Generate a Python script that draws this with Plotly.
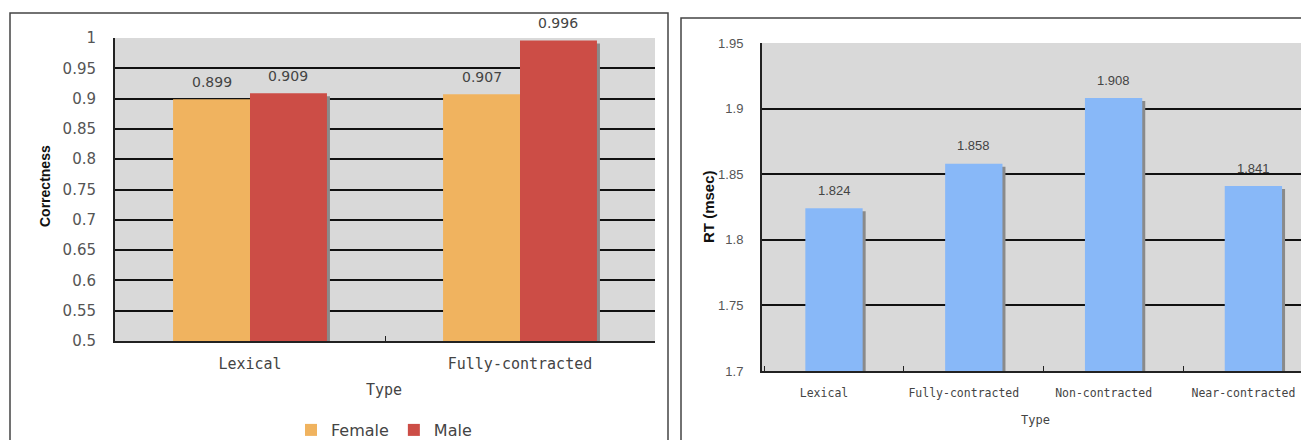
import plotly.graph_objects as go

# ---------------- data ----------------
left_categories = ["Lexical", "Fully-contracted"]
female_values = [0.899, 0.907]
male_values = [0.909, 0.996]
left_series_names = ["Female", "Male"]
left_y_ticks = [0.5, 0.55, 0.6, 0.65, 0.7, 0.75, 0.8, 0.85, 0.9, 0.95, 1]
left_y_ticklabels = ["0.5", "0.55", "0.6", "0.65", "0.7", "0.75", "0.8", "0.85", "0.9", "0.95", "1"]

right_categories = ["Lexical", "Fully-contracted", "Non-contracted", "Near-contracted"]
rt_values = [1.824, 1.858, 1.908, 1.841]
right_y_ticks = [1.7, 1.75, 1.8, 1.85, 1.9, 1.95]
right_y_ticklabels = ["1.7", "1.75", "1.8", "1.85", "1.9", "1.95"]

# ---------------- style ----------------
PAGE_W, PAGE_H = 1309, 440
OFF = 8                      # page body margin
W, H = PAGE_W - OFF, PAGE_H - OFF
FEMALE = "#f0b35f"
MALE = "#cc4d46"
BLUE = "#88b8f8"
SHADOW = "#8a8a8a"
BG = "#d9d9d9"
TXT = "#555555"


def px_x(p):
    return (p - OFF) / W


def px_y(p):
    return 1 - (p - OFF) / H


# left plot geometry (page px)
L_X0, L_X1, L_Y0, L_Y1 = 115, 655, 38, 341
# right plot geometry (page px)
R_X0, R_Y0, R_Y1 = 762, 43, 371
R_CAT_W = 139.8
R_FIRST_CENTER = 834
R_X1 = PAGE_W

l_xrange = [-0.5, 1.5]
l_pxu = (L_X1 - L_X0) / (l_xrange[1] - l_xrange[0])
l_yrange = [0.5, 1.0]
l_ypx = (l_yrange[1] - l_yrange[0]) / (L_Y1 - L_Y0)

r_xrange = [(R_X0 - R_FIRST_CENTER) / R_CAT_W, (R_X1 - R_FIRST_CENTER) / R_CAT_W]
r_yrange = [1.7, 1.95]
r_ypx = (r_yrange[1] - r_yrange[0]) / (R_Y1 - R_Y0)

SH = 3  # shadow offset px

fig = go.Figure()

# ---- left shadows (x3/y3) ----
for vals in (female_values, male_values):
    fig.add_trace(go.Bar(x=left_categories, y=vals, marker=dict(color=SHADOW, line=dict(width=0)),
                         xaxis="x3", yaxis="y3", showlegend=False, hoverinfo="skip"))
# ---- left main bars (x5/y5) ----
for name, vals, col in ((left_series_names[0], female_values, FEMALE),
                        (left_series_names[1], male_values, MALE)):
    fig.add_trace(go.Bar(x=left_categories, y=vals, name=name, marker=dict(color=col, line=dict(width=0)),
                         xaxis="x5", yaxis="y5"))
# ---- right shadows / main ----
fig.add_trace(go.Bar(x=right_categories, y=rt_values, marker=dict(color=SHADOW, line=dict(width=0)),
                     xaxis="x4", yaxis="y4", showlegend=False, hoverinfo="skip", width=0.41))
fig.add_trace(go.Bar(x=right_categories, y=rt_values, marker=dict(color=BLUE, line=dict(width=0)),
                     xaxis="x6", yaxis="y6", showlegend=False, width=0.41))
# invisible traces to activate base axes
fig.add_trace(go.Bar(x=left_categories, y=[None, None], xaxis="x", yaxis="y", showlegend=False, hoverinfo="skip"))
fig.add_trace(go.Bar(x=right_categories, y=[None] * 4, xaxis="x2", yaxis="y2", showlegend=False, hoverinfo="skip"))

l_dom_x = [px_x(L_X0), px_x(L_X1)]
l_dom_y = [px_y(L_Y1), px_y(L_Y0)]
r_dom_x = [px_x(R_X0), 1.0]
r_dom_y = [px_y(R_Y1), px_y(R_Y0)]

hidden = dict(showgrid=False, zeroline=False, showticklabels=False, showline=False, ticks="")

layout = dict(
    width=W, height=H,
    margin=dict(l=0, r=0, t=0, b=0, autoexpand=False),
    paper_bgcolor="white",
    plot_bgcolor=BG,
    barmode="group",
    bargap=0.43,
    bargroupgap=0,
    showlegend=True,
    legend=dict(orientation="h", x=px_x(384), xanchor="center", y=px_y(430), yanchor="middle",
                font=dict(family="DejaVu Sans", size=16, color="#444444"), bgcolor="rgba(0,0,0,0)",
                itemwidth=30, traceorder="normal"),
    # left base
    xaxis=dict(domain=l_dom_x, anchor="y", type="category", categoryarray=left_categories,
               range=l_xrange, showgrid=False, zeroline=False, showline=True, linecolor="#222", linewidth=2,
               mirror=False, ticks="inside", tickson="boundaries", ticklen=5, tickcolor="#222",
               tickfont=dict(family="DejaVu Sans Mono", size=15, color="#444"), ticklabelstandoff=8,
               automargin=False),
    yaxis=dict(domain=l_dom_y, anchor="x", range=l_yrange, tickvals=left_y_ticks, ticktext=left_y_ticklabels,
               showgrid=True, gridcolor="#111", gridwidth=1.5, zeroline=False, showline=True,
               linecolor="#222", linewidth=2, ticks="", ticklabelstandoff=14,
               tickfont=dict(family="DejaVu Sans", size=15, color=TXT), automargin=False),
    xaxis3=dict(domain=l_dom_x, anchor="y3", overlaying="x", type="category", categoryarray=left_categories,
                range=[l_xrange[0] - SH / l_pxu, l_xrange[1] - SH / l_pxu], **hidden),
    yaxis3=dict(domain=l_dom_y, anchor="x3", overlaying="y",
                range=[l_yrange[0] + SH * l_ypx, l_yrange[1] + SH * l_ypx], **hidden),
    xaxis5=dict(domain=l_dom_x, anchor="y5", overlaying="x", type="category", categoryarray=left_categories,
                range=l_xrange, **hidden),
    yaxis5=dict(domain=l_dom_y, anchor="x5", overlaying="y", range=l_yrange, **hidden),
    # right base
    xaxis2=dict(domain=r_dom_x, anchor="y2", type="category", categoryarray=right_categories,
                range=r_xrange, showgrid=False, zeroline=False, showline=True, linecolor="#222", linewidth=2,
                ticks="inside", tickson="boundaries", ticklen=5, tickcolor="#222",
                tickfont=dict(family="DejaVu Sans Mono", size=11.5, color="#444"), ticklabelstandoff=10,
                ticklabelshift=-10, automargin=False),
    yaxis2=dict(domain=r_dom_y, anchor="x2", range=r_yrange, tickvals=right_y_ticks, ticktext=right_y_ticklabels,
                showgrid=True, gridcolor="#111", gridwidth=1.5, zeroline=False, showline=True,
                linecolor="#222", linewidth=2, ticks="", ticklabelstandoff=14,
                tickfont=dict(family="Liberation Sans Narrow, Liberation Sans", size=13, color=TXT),
                automargin=False),
    xaxis4=dict(domain=r_dom_x, anchor="y4", overlaying="x2", type="category", categoryarray=right_categories,
                range=[r_xrange[0] - SH / R_CAT_W, r_xrange[1] - SH / R_CAT_W], **hidden),
    yaxis4=dict(domain=r_dom_y, anchor="x4", overlaying="y2",
                range=[r_yrange[0] + SH * r_ypx, r_yrange[1] + SH * r_ypx], **hidden),
    xaxis6=dict(domain=r_dom_x, anchor="y6", overlaying="x2", type="category", categoryarray=right_categories,
                range=r_xrange, **hidden),
    yaxis6=dict(domain=r_dom_y, anchor="x6", overlaying="y2", range=r_yrange, **hidden),
)
fig.update_layout(**layout)

annotations = []
# left value labels
bar_half = 0.57 * l_pxu / 4
for vals, sign in ((female_values, -1), (male_values, 1)):
    for cat, v in zip(left_categories, vals):
        annotations.append(dict(x=cat, y=v, xref="x", yref="y", text=f"{v:.3f}", showarrow=False,
                                xshift=sign * bar_half, yshift=17, xanchor="center", yanchor="middle",
                                font=dict(family="DejaVu Sans", size=14, color="#444")))
# right value labels
for cat, v in zip(right_categories, rt_values):
    annotations.append(dict(x=cat, y=v, xref="x2", yref="y2", text=f"{v:.3f}", showarrow=False,
                            yshift=18, xanchor="center", yanchor="middle",
                            font=dict(family="Liberation Sans Narrow, Liberation Sans", size=13, color="#444")))
# axis titles
annotations += [
    dict(x=px_x(45), y=px_y(186), xref="paper", yref="paper", text="<b>Correctness</b>", textangle=-90,
         showarrow=False, xanchor="center", yanchor="middle",
         font=dict(family="Liberation Sans Narrow, Liberation Sans", size=14, color="#111")),
    dict(x=px_x(384), y=px_y(390), xref="paper", yref="paper", text="Type", showarrow=False,
         xanchor="center", yanchor="middle",
         font=dict(family="DejaVu Sans Mono", size=15, color="#444")),
    dict(x=px_x(708), y=px_y(207), xref="paper", yref="paper", text="<b>RT (msec)</b>", textangle=-90,
         showarrow=False, xanchor="center", yanchor="middle",
         font=dict(family="Liberation Sans Narrow, Liberation Sans", size=15, color="#111")),
    dict(x=px_x(1035), y=px_y(420), xref="paper", yref="paper", text="Type", showarrow=False,
         xanchor="center", yanchor="middle",
         font=dict(family="DejaVu Sans Mono", size=12, color="#444")),
]
fig.update_layout(annotations=annotations)

# panel frames
fig.update_layout(shapes=[
    dict(type="rect", xref="paper", yref="paper", x0=px_x(10), x1=px_x(668), y0=-0.05, y1=px_y(13),
         line=dict(color="#444", width=1.5), fillcolor="rgba(0,0,0,0)", layer="below"),
    dict(type="rect", xref="paper", yref="paper", x0=px_x(681), x1=1.05, y0=-0.05, y1=px_y(18),
         line=dict(color="#444", width=1.5), fillcolor="rgba(0,0,0,0)", layer="below"),
])

fig.write_html("out.html")
